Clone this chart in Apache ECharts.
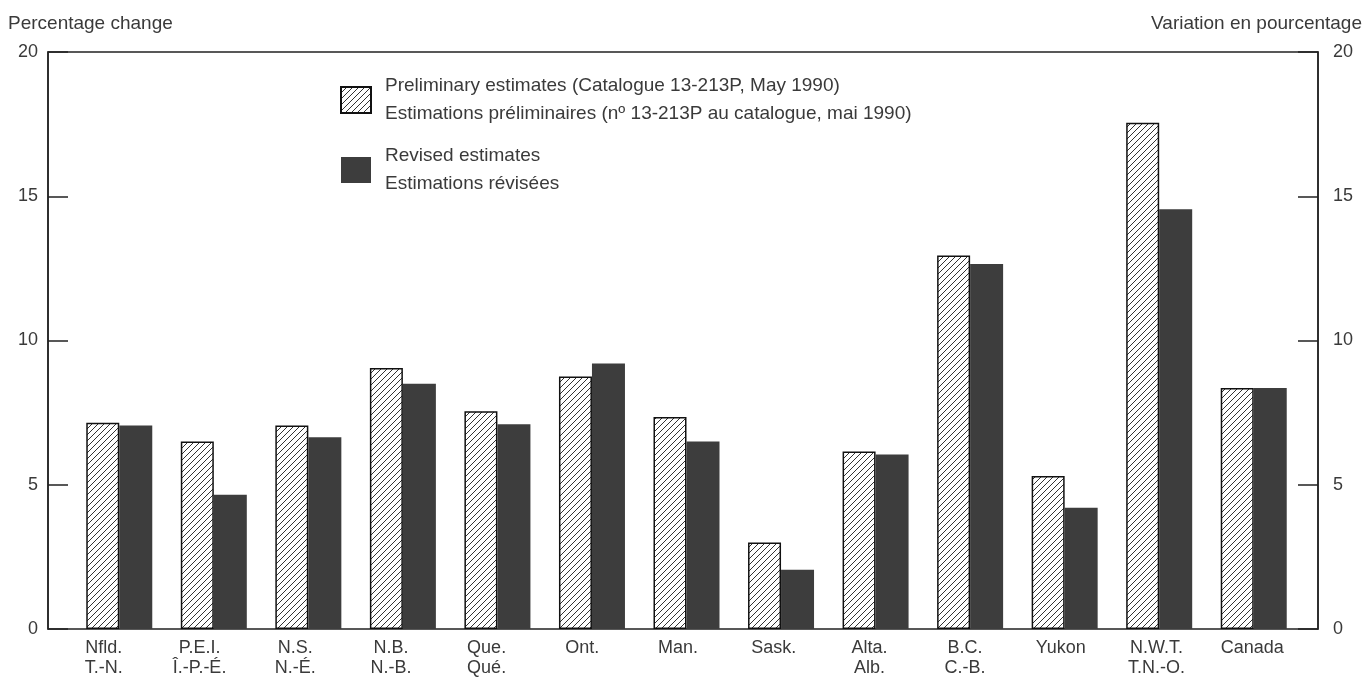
<!DOCTYPE html>
<html>
<head>
<meta charset="utf-8">
<style>
  html, body { margin: 0; padding: 0; background: #fff; }
  #chart { width: 1370px; height: 692px; }
</style>
<script src="https://cdn.jsdelivr.net/npm/echarts@6/dist/echarts.min.js"></script>
</head>
<body>
<div id="chart"></div>
<script>
const categories = [
  'Nfld.\nT.-N.', 'P.E.I.\nÎ.-P.-É.', 'N.S.\nN.-É.', 'N.B.\nN.-B.', 'Que.\nQué.',
  'Ont.', 'Man.', 'Sask.', 'Alta.\nAlb.', 'B.C.\nC.-B.', 'Yukon', 'N.W.T.\nT.N.-O.', 'Canada'
]
const preliminary = [7.15, 6.5, 7.05, 9.05, 7.55, 8.75, 7.35, 3.0, 6.15, 12.95, 5.3, 17.55, 8.35]
const revised = [7.05, 4.65, 6.65, 8.5, 7.1, 9.2, 6.5, 2.05, 6.05, 12.65, 4.2, 14.55, 8.35]
const yTicks = [0, 5, 10, 15, 20]

const prelimName = 'Preliminary estimates (Catalogue 13-213P, May 1990)\nEstimations préliminaires (nº 13-213P au catalogue, mai 1990)'
const revisedName = 'Revised estimates\nEstimations révisées'

const font = "'Liberation Sans', Arial, sans-serif"
const textColor = '#3a3a3a'
const lineColor = '#222'

// diagonal hatch tile for the preliminary bars
function hatchPattern() {
  const size = 6
  const c = document.createElement('canvas')
  c.width = size
  c.height = size
  const ctx = c.getContext('2d')
  ctx.fillStyle = '#fff'
  ctx.fillRect(0, 0, size, size)
  ctx.strokeStyle = '#333'
  ctx.lineWidth = 1
  ctx.beginPath()
  ctx.moveTo(0, size)
  ctx.lineTo(size, 0)
  ctx.moveTo(-1, 1)
  ctx.lineTo(1, -1)
  ctx.moveTo(size - 1, size + 1)
  ctx.lineTo(size + 1, size - 1)
  ctx.stroke()
  return c
}

const chart = echarts.init(document.getElementById('chart'))

const valueAxis = (gridIndex, position, margin) => ({
  type: 'value', gridIndex, position, min: 0, max: 20, interval: 5,
  splitLine: { show: false },
  axisLine: { show: true, lineStyle: { color: lineColor, width: 1.5 } },
  axisTick: { show: true, inside: true, length: 20, lineStyle: { color: lineColor, width: 1.5 } },
  axisLabel: { fontFamily: font, fontSize: 18, color: textColor, margin,
    formatter: (v) => yTicks.includes(v) ? String(v) : '' }
})

chart.setOption({
  backgroundColor: '#fff',
  animation: false,
  textStyle: { fontFamily: font, color: textColor },
  title: [
    { text: 'Percentage change', left: 3, top: 9, textStyle: { fontFamily: font, fontSize: 19, fontWeight: 'normal', color: textColor } },
    { text: 'Variation en pourcentage', right: 3, top: 9, textStyle: { fontFamily: font, fontSize: 19, fontWeight: 'normal', color: textColor } }
  ],
  legend: {
    orient: 'vertical',
    left: 335,
    top: 67,
    itemWidth: 30,
    itemHeight: 26,
    itemGap: 14,
    icon: 'rect',
    textStyle: { fontFamily: font, fontSize: 19, color: textColor, lineHeight: 28, padding: [0, 0, 0, 9] },
    data: [prelimName, revisedName]
  },
  grid: [
    // frame with both value axes
    { left: 48, right: 52, top: 52, bottom: 63, show: true, borderColor: lineColor, borderWidth: 1.5, backgroundColor: 'transparent' },
    // bars
    { left: 72, right: 69, top: 52, bottom: 63 },
    // category labels
    { left: 56, right: 70, top: 52, bottom: 63 }
  ],
  xAxis: [
    { type: 'value', gridIndex: 0, show: false, min: 0, max: 1 },
    { type: 'category', gridIndex: 1, data: categories, show: false },
    {
      type: 'category',
      gridIndex: 2,
      data: categories,
      axisLine: { show: false },
      axisTick: { show: false },
      axisLabel: { fontFamily: font, fontSize: 18, color: textColor, lineHeight: 20, margin: 9, interval: 0 }
    }
  ],
  yAxis: [
    valueAxis(0, 'left', 10),
    valueAxis(0, 'right', 15),
    { type: 'value', gridIndex: 1, min: 0, max: 20, show: false, splitLine: { show: false } },
    { type: 'value', gridIndex: 2, min: 0, max: 20, show: false, splitLine: { show: false } }
  ],
  series: [
    {
      name: prelimName,
      type: 'bar',
      xAxisIndex: 1,
      yAxisIndex: 2,
      barWidth: 33,
      barGap: '0%',
      data: preliminary,
      itemStyle: {
        color: { image: hatchPattern(), repeat: 'repeat' },
        borderColor: '#111',
        borderWidth: 1.5
      }
    },
    {
      name: revisedName,
      type: 'bar',
      xAxisIndex: 1,
      yAxisIndex: 2,
      barWidth: 33,
      barGap: '0%',
      data: revised,
      itemStyle: { color: '#3d3d3d' }
    }
  ]
})
</script>
</body>
</html>
